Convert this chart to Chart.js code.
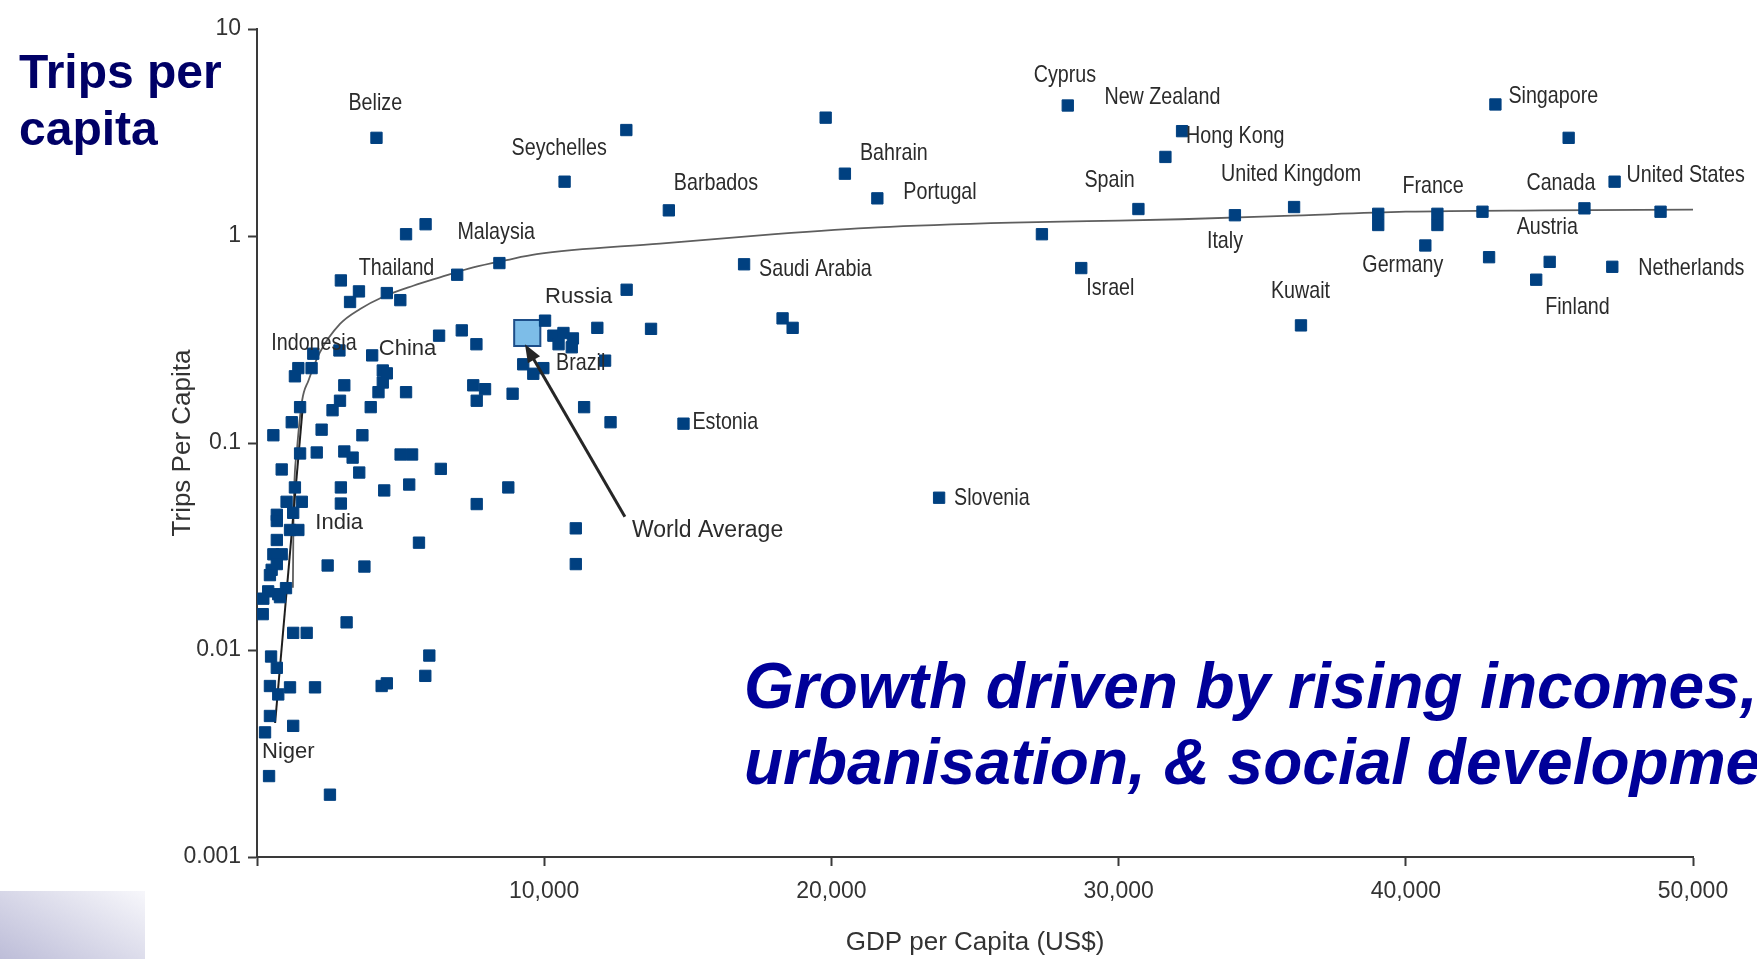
<!DOCTYPE html>
<html>
<head>
<meta charset="utf-8">
<script src="https://cdn.jsdelivr.net/npm/chart.js@4.4.1/dist/chart.umd.min.js"></script>
<style>
  html, body { margin: 0; padding: 0; background: #fff; overflow: hidden; }
  #wrap { position: relative; width: 1757px; height: 959px; }
  #chart { position: absolute; left: 0; top: 0; }
  .heading { position: absolute; left: 19px; top: 43px; font: bold 48px "Liberation Sans", Arial, sans-serif; line-height: 57px; color: #000066; }
  .note { position: absolute; left: 744px; top: 648px; font: italic bold 64px "Liberation Sans", Arial, sans-serif; line-height: 76px; color: #000099; white-space: nowrap; }
  .corner { position: absolute; left: 0; top: 891px; width: 145px; height: 68px; background: linear-gradient(30deg, #bdbdd8 0%, #f7f7fb 100%); }
</style>
</head>
<body>
<div id="wrap">
  <canvas id="chart" width="1757" height="959"></canvas>
  <div class="heading">Trips per<br>capita</div>
  <div class="note">Growth driven by rising incomes,<br>urbanisation, &amp; social development</div>
  <div class="corner"></div>
</div>
<script>
// countries: GDP per capita (US$) vs trips per capita
const countryNames = [
  "Belize", "", "", "Seychelles", "", "Barbados", "", "Bahrain", "Portugal", "Malaysia",
  "", "", "", "", "Thailand", "", "Saudi Arabia", "", "", "",
  "", "", "Russia", "", "", "", "", "", "", "",
  "", "Brazil", "", "", "", "", "", "", "Estonia", "Slovenia",
  "Indonesia", "", "", "", "", "", "China", "", "", "",
  "", "", "", "", "", "", "", "", "", "",
  "", "", "", "", "", "", "", "", "", "",
  "", "", "", "", "", "", "", "", "", "",
  "", "", "", "", "", "India", "", "", "", "",
  "", "", "", "", "", "", "", "", "", "",
  "", "", "", "", "", "", "", "", "", "",
  "", "", "", "", "", "Niger", "", "", "", "",
  "", "Cyprus", "", "Israel", "Spain", "Hong Kong", "New Zealand", "Italy", "United Kingdom", "Kuwait",
  "", "", "France", "", "Germany", "", "", "Singapore", "", "Canada",
  "Austria", "Finland", "United States", "Netherlands", ""
];
const gdpPerCapita = [
  4160, 5190, 5870, 10710, 12860, 14340, 19800, 20470, 21600, 8440,
  6970, 2920, 3550, 3240, 4520, 4990, 16960, 12870, 18300, 18650,
  13720, 11850, 10030, 10320, 10670, 11000, 10960, 10500, 6340, 7130,
  7640, 12120, 9270, 9620, 9970, 8900, 11390, 12310, 14850, 23750,
  1960, 2870, 4010, 1440, 1320, 1900, 4380, 4380, 4230, 4520,
  3040, 5190, 7530, 7940, 7650, 2890, 2630, 3960, 1500, 1210,
  2250, 570, 3670, 1500, 2080, 3040, 3330, 5000, 5400, 860,
  3560, 6400, 1320, 2920, 4430, 5300, 8750, 1030, 1560, 2920,
  7650, 690, 1260, 690, 1150, 1440, 690, 5640, 570, 860,
  2460, 3740, 510, 450, 1010, 390, 740, 220, 800, 200,
  3120, 1260, 1730, 6000, 490, 690, 5860, 450, 1150, 2020,
  740, 4340, 4520, 450, 1260, 280, 420, 2540, 11100, 11100,
  690, 28230, 27330, 28700, 30690, 32210, 31630, 34050, 36110, 36350,
  39040, 39040, 41100, 41100, 40680, 42670, 42900, 43120, 45670, 46220,
  45010, 44540, 47270, 47190, 48870
];
const tripsPerCapita = [
  2.98, 1.02, 1.14, 1.83, 3.25, 1.33, 3.73, 2.0, 1.52, 0.74,
  0.65, 0.61, 0.54, 0.48, 0.53, 0.49, 0.73, 0.55, 0.40, 0.36,
  0.356, 0.36, 0.39, 0.33, 0.34, 0.32, 0.29, 0.30, 0.33, 0.35,
  0.30, 0.25, 0.24, 0.216, 0.23, 0.173, 0.149, 0.126, 0.124, 0.0544,
  0.27, 0.28, 0.265, 0.23, 0.21, 0.23, 0.224, 0.196, 0.176, 0.217,
  0.19, 0.176, 0.19, 0.182, 0.16, 0.16, 0.144, 0.149, 0.149, 0.126,
  0.116, 0.109, 0.109, 0.089, 0.090, 0.091, 0.085, 0.088, 0.088, 0.0745,
  0.072, 0.075, 0.061, 0.061, 0.059, 0.063, 0.061, 0.052, 0.052, 0.051,
  0.0507, 0.045, 0.046, 0.042, 0.038, 0.038, 0.034, 0.033, 0.029, 0.029,
  0.0256, 0.0253, 0.0244, 0.023, 0.0199, 0.0192, 0.0186, 0.0177, 0.018, 0.0149,
  0.0136, 0.0121, 0.0121, 0.0094, 0.0093, 0.0082, 0.0075, 0.0067, 0.0066, 0.0066,
  0.0061, 0.0067, 0.0069, 0.0048, 0.0043, 0.004, 0.00246, 0.002, 0.0387, 0.026,
  0.026, 4.27, 1.02, 0.70, 1.35, 3.21, 2.41, 1.26, 1.38, 0.37,
  1.28, 1.13, 1.28, 1.13, 0.90, 1.31, 0.79, 4.32, 2.98, 1.36,
  0.75, 0.615, 1.83, 0.71, 1.31
];

const worldAverage = { gdp: 9410, trips: 0.34 };
const worldArrowFrom = { gdp: 12810, trips: 0.044 };
const worldArrowTo = { gdp: 9330, trips: 0.30 };

// fitted curve and the steep low-income fit
const trendGdp = [1250, 1270, 1390, 1570, 1790, 2190, 2890, 3590, 4400, 5440, 6370, 7530, 8690, 9740, 14030, 18030, 21620, 26290, 28930, 32160, 35770, 40000, 44800, 50000];
const trendTrips = [0.02, 0.0425, 0.092, 0.16, 0.20, 0.274, 0.376, 0.444, 0.509, 0.575, 0.631, 0.705, 0.765, 0.817, 0.919, 1.02, 1.10, 1.16, 1.18, 1.205, 1.25, 1.31, 1.33, 1.34];
const fitGdp = [630, 1600];
const fitTrips = [0.00444, 0.153];

const xTickValues = [0, 10000, 20000, 30000, 40000, 50000];
const xTickLabels = ["", "10,000", "20,000", "30,000", "40,000", "50,000"];
const yTickValues = [0.001, 0.01, 0.1, 1, 10];
const yTickLabels = ["0.001", "0.01", "0.1", "1", "10"];

// pixel nudges for the name next to each marker
const labelOffsets = {
  "Belize": [-28, -34], "Seychelles": [-53, -33], "Barbados": [5, -27], "Bahrain": [15, -20],
  "Portugal": [26, -6], "Malaysia": [-42, -31], "Thailand": [-28, -25], "Saudi Arabia": [15, 5],
  "Russia": [0, -24], "Brazil": [-49, 3], "Estonia": [9, -1], "Slovenia": [15, 1],
  "Indonesia": [-42, -10], "China": [-4, -22], "India": [17, -7], "Niger": [-3, 20],
  "Cyprus": [-34, -30], "Israel": [5, 20], "Spain": [-54, -29], "Hong Kong": [4, 5],
  "New Zealand": [-61, -60], "Italy": [-28, 26], "United Kingdom": [-73, -33], "Kuwait": [-30, -34],
  "France": [-35, -27], "Germany": [-63, 20], "Singapore": [13, -8], "Canada": [-58, -25],
  "Austria": [-33, -34], "Finland": [9, 28], "United States": [12, -6], "Netherlands": [26, 2]
};
// these few are set in a plain (not condensed) face in the original
const plainLabels = ["Russia", "China", "India", "Niger"];

const SANS = "'Liberation Sans', Arial, sans-serif";
const AXIS = "#3a3a3a";

const labelPlugin = {
  id: "countryLabels",
  afterDatasetsDraw(chart) {
    const { ctx, scales: { x, y } } = chart;
    ctx.save();
    ctx.fillStyle = "#2b2b2b";
    ctx.textBaseline = "middle";
    ctx.textAlign = "left";
    countryNames.forEach((name, i) => {
      if (!name) return;
      const [dx, dy] = labelOffsets[name];
      const px = x.getPixelForValue(gdpPerCapita[i]) + dx;
      const py = y.getPixelForValue(tripsPerCapita[i]) + dy;
      ctx.save();
      ctx.translate(px, py);
      if (plainLabels.includes(name)) {
        ctx.font = "22px " + SANS;
      } else {
        ctx.font = "24px " + SANS;
        ctx.scale(0.82, 1);
      }
      ctx.fillText(name, 0, 0);
      ctx.restore();
    });

    // arrow pointing at the world average
    const x0 = x.getPixelForValue(worldArrowFrom.gdp), y0 = y.getPixelForValue(worldArrowFrom.trips);
    const x1 = x.getPixelForValue(worldArrowTo.gdp), y1 = y.getPixelForValue(worldArrowTo.trips);
    const a = Math.atan2(y1 - y0, x1 - x0);
    ctx.strokeStyle = "#262626";
    ctx.fillStyle = "#262626";
    ctx.lineWidth = 3;
    ctx.beginPath();
    ctx.moveTo(x0, y0);
    ctx.lineTo(x1 - 12 * Math.cos(a), y1 - 12 * Math.sin(a));
    ctx.stroke();
    ctx.beginPath();
    ctx.moveTo(x1, y1);
    ctx.lineTo(x1 - 18 * Math.cos(a) + 7 * Math.sin(a), y1 - 18 * Math.sin(a) - 7 * Math.cos(a));
    ctx.lineTo(x1 - 18 * Math.cos(a) - 7 * Math.sin(a), y1 - 18 * Math.sin(a) + 7 * Math.cos(a));
    ctx.closePath();
    ctx.fill();
    ctx.fillStyle = "#2b2b2b";
    ctx.font = "23px " + SANS;
    ctx.fillText("World Average", x0 + 7, y0 + 14);
    ctx.restore();
  }
};

new Chart(document.getElementById("chart"), {
  type: "scatter",
  data: {
    datasets: [
      {
        label: "Countries",
        data: gdpPerCapita.map((g, i) => ({ x: g, y: tripsPerCapita[i] })),
        pointStyle: "rect",
        pointRadius: 8,
        backgroundColor: "#004080",
        borderColor: "#004080",
        borderWidth: 1
      },
      {
        label: "World Average",
        data: [{ x: worldAverage.gdp, y: worldAverage.trips }],
        pointStyle: "rect",
        pointRadius: 18.5,
        backgroundColor: "#7dbde8",
        borderColor: "#1d4e89",
        borderWidth: 2
      },
      {
        label: "Fit",
        data: fitGdp.map((g, i) => ({ x: g, y: fitTrips[i] })),
        showLine: true,
        pointRadius: 0,
        borderColor: "#1e1e1e",
        borderWidth: 2
      },
      {
        label: "Trend",
        data: trendGdp.map((g, i) => ({ x: g, y: trendTrips[i] })),
        showLine: true,
        pointRadius: 0,
        borderColor: "#5e5e5e",
        borderWidth: 1.8,
        cubicInterpolationMode: "monotone"
      }
    ]
  },
  options: {
    responsive: false,
    animation: false,
    layout: { padding: { left: 0, top: 29, right: 64, bottom: 0 } },
    plugins: { legend: { display: false }, tooltip: { enabled: false } },
    scales: {
      x: {
        type: "linear",
        min: 0,
        max: 50000,
        afterBuildTicks: (s) => { s.ticks = xTickValues.map((v) => ({ value: v })); },
        afterFit: (s) => { s.height = 102; },
        border: { display: true, color: AXIS, width: 2 },
        grid: { drawOnChartArea: false, drawTicks: true, tickLength: 9, tickWidth: 2, tickColor: AXIS },
        ticks: {
          autoSkip: false,
          maxRotation: 0,
          padding: 12,
          color: "#333",
          font: { family: SANS, size: 23 },
          callback: (v, i) => xTickLabels[i]
        },
        title: {
          display: true,
          text: "GDP per Capita (US$)",
          color: "#333",
          font: { family: SANS, size: 26 },
          padding: { top: 0, bottom: 1 }
        }
      },
      y: {
        type: "logarithmic",
        min: 0.001,
        max: 10,
        afterBuildTicks: (s) => { s.ticks = yTickValues.map((v) => ({ value: v })); },
        afterFit: (s) => { s.width = 257; },
        border: { display: true, color: AXIS, width: 2 },
        grid: { drawOnChartArea: false, drawTicks: true, tickLength: 9, tickWidth: 2, tickColor: AXIS },
        ticks: {
          padding: 7,
          color: "#333",
          font: { family: SANS, size: 23 },
          callback: (v, i) => yTickLabels[i]
        },
        title: {
          display: true,
          text: "Trips Per Capita",
          color: "#333",
          font: { family: SANS, size: 26 },
          padding: { top: 167, bottom: 0 }
        }
      }
    }
  },
  plugins: [labelPlugin]
});
</script>
</body>
</html>
